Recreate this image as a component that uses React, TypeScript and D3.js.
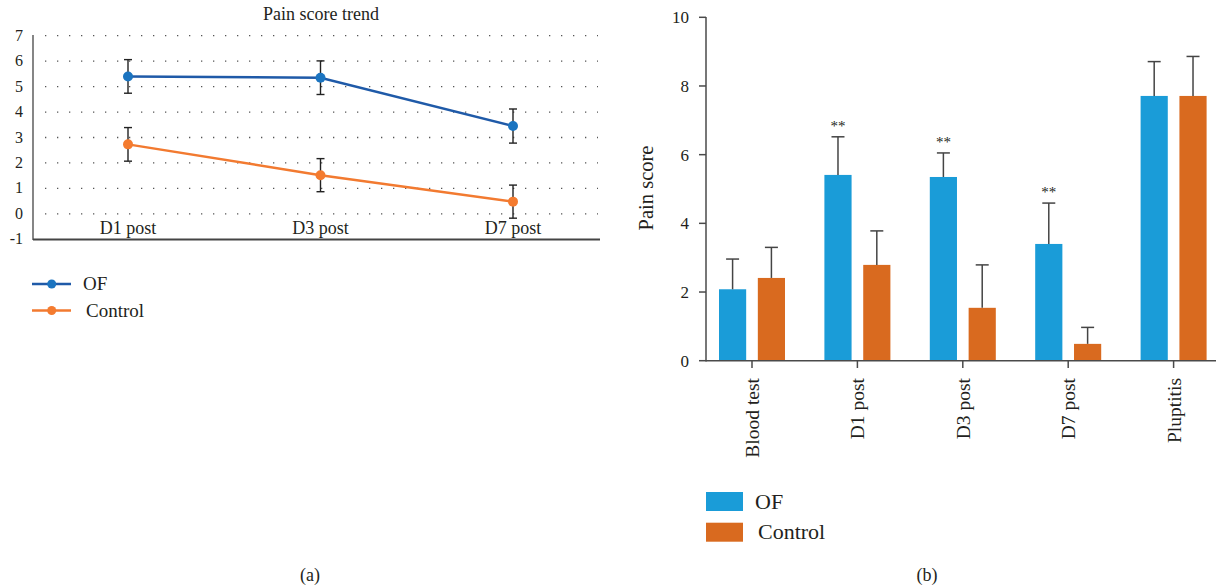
import React, { useEffect, useRef } from 'react';
import * as d3 from 'd3';

// panel (a): trend
const trendDays = ['D1 post', 'D3 post', 'D7 post'];
const ofTrend = [5.4, 5.35, 3.45];
const ofTrendErr = [0.66, 0.66, 0.67];
const controlTrend = [2.73, 1.52, 0.48];
const controlTrendErr = [0.66, 0.65, 0.65];
const trendTicks = [-1, 0, 1, 2, 3, 4, 5, 6, 7];

// panel (b): bars
const barCats = ['Blood test', 'D1 post', 'D3 post', 'D7 post', 'Pluptitis'];
const ofScore = [2.08, 5.41, 5.35, 3.4, 7.71];
const ofSd = [0.88, 1.11, 0.7, 1.19, 1.0];
const controlScore = [2.41, 2.79, 1.54, 0.49, 7.71];
const controlSd = [0.89, 0.99, 1.25, 0.48, 1.15];
const signif = ['', '**', '**', '**', ''];
const groups = ['OF', 'Control'];

const FONT = "'Liberation Serif', 'Times New Roman', Times, 'DejaVu Serif', serif";
const TEXT = '#231f20';

const App = () => {
  const ref = useRef<SVGSVGElement | null>(null);

  useEffect(() => {
    const svg = d3.select(ref.current);
    svg.selectAll('*').remove();

    // ---------- (a) line chart ----------
    const xA = d3.scalePoint<string>().domain(trendDays).range([128, 513]);
    const yA = d3.scaleLinear().domain([-1, 7]).range([239.3, 35.7]);
    const a = svg.append('g');

    a.append('text')
      .attr('x', 321).attr('y', 20)
      .attr('text-anchor', 'middle')
      .attr('font-size', 18).attr('fill', TEXT)
      .text('Pain score trend');

    a.selectAll('.grid')
      .data(trendTicks.filter(t => t >= 0))
      .enter().append('line')
      .attr('x1', 45).attr('x2', 598)
      .attr('y1', d => yA(d)).attr('y2', d => yA(d))
      .attr('stroke', '#555').attr('stroke-width', 1.3)
      .attr('stroke-dasharray', '1.3 10.7');

    a.selectAll('.ylab')
      .data(trendTicks)
      .enter().append('text')
      .attr('x', 23).attr('y', d => yA(d) + 5)
      .attr('text-anchor', 'end')
      .attr('font-size', 16).attr('fill', TEXT)
      .text(d => d);

    a.append('line')
      .attr('x1', 33).attr('x2', 33).attr('y1', 35).attr('y2', 240)
      .attr('stroke', '#444').attr('stroke-width', 1.3);
    a.append('line')
      .attr('x1', 33).attr('x2', 600).attr('y1', 239.5).attr('y2', 239.5)
      .attr('stroke', '#444').attr('stroke-width', 2);

    a.selectAll('.xlab')
      .data(trendDays)
      .enter().append('text')
      .attr('x', d => xA(d)!).attr('y', 234)
      .attr('text-anchor', 'middle')
      .attr('font-size', 18).attr('fill', TEXT)
      .text(d => d);

    const trendSeries = [
      { vals: ofTrend, err: ofTrendErr, line: '#1f5aa8', dot: '#1b74c0' },
      { vals: controlTrend, err: controlTrendErr, line: '#f27a30', dot: '#f47b2f' },
    ];
    const line = d3.line<number>()
      .x((d, i) => xA(trendDays[i])!)
      .y(d => yA(d));

    trendSeries.forEach(s => {
      a.append('path')
        .datum(s.vals)
        .attr('d', line)
        .attr('fill', 'none')
        .attr('stroke', s.line).attr('stroke-width', 2.5);
      s.vals.forEach((v, i) => {
        const x = xA(trendDays[i])!;
        const eb = a.append('g').attr('stroke', '#222').attr('stroke-width', 1.4);
        eb.append('line').attr('x1', x).attr('x2', x)
          .attr('y1', yA(v + s.err[i])).attr('y2', yA(v - s.err[i]));
        eb.append('line').attr('x1', x - 4).attr('x2', x + 4)
          .attr('y1', yA(v + s.err[i])).attr('y2', yA(v + s.err[i]));
        eb.append('line').attr('x1', x - 4).attr('x2', x + 4)
          .attr('y1', yA(v - s.err[i])).attr('y2', yA(v - s.err[i]));
      });
      a.selectAll(null)
        .data(s.vals)
        .enter().append('circle')
        .attr('cx', (d, i) => xA(trendDays[i])!)
        .attr('cy', d => yA(d))
        .attr('r', 5)
        .attr('fill', s.dot);
    });

    // legend (a)
    const legA = [
      { name: 'OF', y: 284, c: '#1f5aa8', dot: '#1b74c0', tx: 83 },
      { name: 'Control', y: 310.5, c: '#f27a30', dot: '#f47b2f', tx: 86 },
    ];
    legA.forEach(l => {
      a.append('line').attr('x1', 32).attr('x2', 71).attr('y1', l.y).attr('y2', l.y)
        .attr('stroke', l.c).attr('stroke-width', 2.5);
      a.append('circle').attr('cx', 51.7).attr('cy', l.y).attr('r', 4.5).attr('fill', l.dot);
      a.append('text').attr('x', l.tx).attr('y', l.y + 6)
        .attr('font-size', 19).attr('fill', TEXT).text(l.name);
    });

    a.append('text').attr('x', 310).attr('y', 581)
      .attr('text-anchor', 'middle').attr('font-size', 18).attr('fill', TEXT).text('(a)');

    // ---------- (b) bar chart ----------
    const xB = d3.scaleBand<string>().domain(barCats).range([699.3, 1226.3]);
    const x1 = d3.scaleBand<string>().domain(groups).range([-33, 33]).paddingInner(0.3);
    const yB = d3.scaleLinear().domain([0, 10]).range([360.7, 17.3]);
    const b = svg.append('g');
    const colors: Record<string, string> = { OF: '#1a9cd8', Control: '#d96a1f' };
    const axisColor = '#4a4a4a';

    const cx = (c: string) => xB(c)! + xB.bandwidth() / 2;

    const barData = barCats.flatMap((c, i) => [
      { cat: c, g: 'OF', v: ofScore[i], sd: ofSd[i] },
      { cat: c, g: 'Control', v: controlScore[i], sd: controlSd[i] },
    ]);

    b.selectAll('.bar')
      .data(barData)
      .enter().append('rect')
      .attr('x', d => cx(d.cat) + x1(d.g)!)
      .attr('width', x1.bandwidth())
      .attr('y', d => yB(d.v))
      .attr('height', d => yB(0) - yB(d.v))
      .attr('fill', d => colors[d.g]);

    barData.forEach(d => {
      const x = cx(d.cat) + x1(d.g)! + x1.bandwidth() / 2;
      const eb = b.append('g').attr('stroke', '#444').attr('stroke-width', 1.5);
      eb.append('line').attr('x1', x).attr('x2', x)
        .attr('y1', yB(d.v)).attr('y2', yB(d.v + d.sd));
      eb.append('line').attr('x1', x - 6.5).attr('x2', x + 6.5)
        .attr('y1', yB(d.v + d.sd)).attr('y2', yB(d.v + d.sd));
    });

    barCats.forEach((c, i) => {
      if (!signif[i]) return;
      const x = cx(c) + x1('OF')! + x1.bandwidth() / 2;
      b.append('text')
        .attr('x', x).attr('y', yB(ofScore[i] + ofSd[i]) - 6)
        .attr('text-anchor', 'middle')
        .attr('font-size', 15).attr('fill', TEXT)
        .text(signif[i]);
    });

    // y axis
    b.append('line').attr('x1', 706).attr('x2', 706).attr('y1', 17).attr('y2', 361.5)
      .attr('stroke', axisColor).attr('stroke-width', 1.5);
    const yTicks = yB.ticks(5);
    b.selectAll('.ytick')
      .data(yTicks)
      .enter().append('line')
      .attr('x1', 699).attr('x2', 706)
      .attr('y1', d => yB(d)).attr('y2', d => yB(d))
      .attr('stroke', axisColor).attr('stroke-width', 1.5);
    b.selectAll('.ylabB')
      .data(yTicks)
      .enter().append('text')
      .attr('x', 689).attr('y', d => yB(d) + 6)
      .attr('text-anchor', 'end')
      .attr('font-size', 17).attr('fill', TEXT)
      .text(d => d);
    b.append('text')
      .attr('transform', `translate(653, ${yB(5) - 1}) rotate(-90)`)
      .attr('text-anchor', 'middle')
      .attr('font-size', 20.5).attr('fill', TEXT)
      .text('Pain score');

    // x axis
    b.append('line').attr('x1', 706).attr('x2', 1216).attr('y1', 360.7).attr('y2', 360.7)
      .attr('stroke', axisColor).attr('stroke-width', 1.5);
    b.selectAll('.xtick')
      .data(barCats)
      .enter().append('line')
      .attr('x1', d => cx(d)).attr('x2', d => cx(d))
      .attr('y1', 360.7).attr('y2', 368)
      .attr('stroke', axisColor).attr('stroke-width', 1.5);
    b.selectAll('.xlabB')
      .data(barCats)
      .enter().append('text')
      .attr('transform', d => `translate(${cx(d) + 7}, 378) rotate(-90)`)
      .attr('text-anchor', 'end')
      .attr('font-size', 19.5).attr('fill', TEXT)
      .text(d => d);

    // legend (b)
    const legB = [
      { name: 'OF', y: 492, tx: 755 },
      { name: 'Control', y: 522.7, tx: 758 },
    ];
    legB.forEach(l => {
      b.append('rect').attr('x', 706).attr('y', l.y).attr('width', 37).attr('height', 19)
        .attr('fill', colors[l.name]);
      b.append('text').attr('x', l.tx).attr('y', l.y + 16.5)
        .attr('font-size', 22).attr('fill', TEXT).text(l.name);
    });

    b.append('text').attr('x', 927).attr('y', 581)
      .attr('text-anchor', 'middle').attr('font-size', 18).attr('fill', TEXT).text('(b)');

    return () => {
      svg.selectAll('*').remove();
    };
  }, []);

  return (
    <svg
      ref={ref}
      width={1216}
      height={588}
      style={{ position: 'absolute', left: 0, top: 0, background: '#fff', fontFamily: FONT }}
    />
  );
};

export default App;
